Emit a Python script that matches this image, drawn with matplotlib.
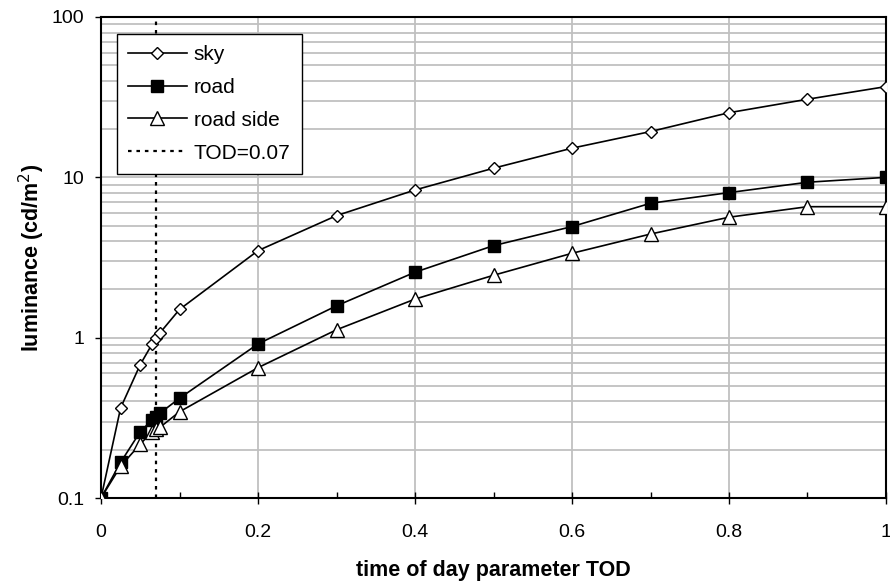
import numpy as np
import matplotlib.pyplot as plt
from matplotlib.ticker import FixedLocator, NullFormatter, MultipleLocator

plt.rcParams["font.family"] = ["Liberation Sans", "DejaVu Sans"]

# time of day parameter TOD
tod = [0, 0.025, 0.05, 0.065, 0.07, 0.075, 0.1, 0.2, 0.3, 0.4, 0.5, 0.6, 0.7, 0.8, 0.9, 1.0]

sky = [0.1, 0.365, 0.68, 0.91, 0.99, 1.07, 1.5, 3.49, 5.77, 8.34, 11.4, 15.2, 19.3, 25.3, 30.7, 36.8]
road = [0.1, 0.167, 0.259, 0.307, 0.319, 0.338, 0.419, 0.914, 1.58, 2.56, 3.75, 4.93, 6.89, 8.03, 9.32, 10.0]
road_side = [0.1, 0.158, 0.217, 0.259, 0.268, 0.276, 0.345, 0.65, 1.12, 1.74, 2.45, 3.36, 4.43, 5.64, 6.56, 6.56]

tod_mark = 0.07

fig = plt.figure(figsize=(8.9, 5.82), dpi=100)
ax = fig.add_axes([0.1135, 0.1443, 0.882, 0.8265])

ax.plot(tod, sky, color="black", linewidth=1.2, marker="D", markersize=6.5,
        markerfacecolor="white", markeredgecolor="black", markeredgewidth=1.0,
        label="sky", zorder=3)
ax.plot(tod, road, color="black", linewidth=1.2, marker="s", markersize=8.5,
        markerfacecolor="black", markeredgecolor="black",
        label="road", zorder=3)
ax.plot(tod, road_side, color="black", linewidth=1.2, marker="^", markersize=9.5,
        markerfacecolor="white", markeredgecolor="black", markeredgewidth=1.0,
        label="road side", zorder=3)
ax.axvline(tod_mark, color="black", linewidth=1.6, linestyle=(0, (1.6, 2.2)),
           label="TOD=0.07", zorder=2)

ax.set_yscale("log")
ax.set_xlim(0, 1)
ax.set_ylim(0.1, 100)

ax.set_xticks([0, 0.2, 0.4, 0.6, 0.8, 1.0])
ax.set_xticklabels(["0", "0.2", "0.4", "0.6", "0.8", "1"])
ax.xaxis.set_minor_locator(MultipleLocator(0.1))
ax.set_yticks([0.1, 1, 10, 100])
ax.set_yticklabels(["0.1", "1", "10", "100"])
minor_y = [m * 10.0 ** e for e in range(-1, 2) for m in range(2, 10)]
ax.yaxis.set_minor_locator(FixedLocator(minor_y))
ax.yaxis.set_minor_formatter(NullFormatter())

ax.grid(True, which="major", axis="x", color="#c0c0c0", linewidth=1.3)
ax.grid(True, which="both", axis="y", color="#c0c0c0", linewidth=1.3)
ax.set_axisbelow(True)

ax.tick_params(axis="x", which="major", direction="inout", length=8, width=1, pad=15)
ax.tick_params(axis="x", which="minor", direction="in", length=4, width=1)
ax.tick_params(axis="y", which="major", direction="out", length=4, width=1, pad=8)
ax.tick_params(axis="y", which="minor", length=0)
ax.tick_params(labelsize=14)

for s in ax.spines.values():
    s.set_linewidth(1.5)
    s.set_color("black")

ax.set_xlabel("time of day parameter TOD", fontweight="bold", fontsize=15.5)
ax.set_ylabel("luminance (cd/m$^2$)", fontweight="bold", fontsize=15.5)
ax.xaxis.set_label_coords(0.5, -0.128)
ax.yaxis.set_label_coords(-0.069, 0.5)

leg = ax.legend(loc="upper left", bbox_to_anchor=(0.02, 0.965), fontsize=15,
                frameon=True, fancybox=False, framealpha=1, edgecolor="black",
                handlelength=2.8, handletextpad=0.35, labelspacing=0.66,
                borderpad=0.55, borderaxespad=0)
leg.get_frame().set_linewidth(1.0)

fig.savefig("out.png", dpi=100)
